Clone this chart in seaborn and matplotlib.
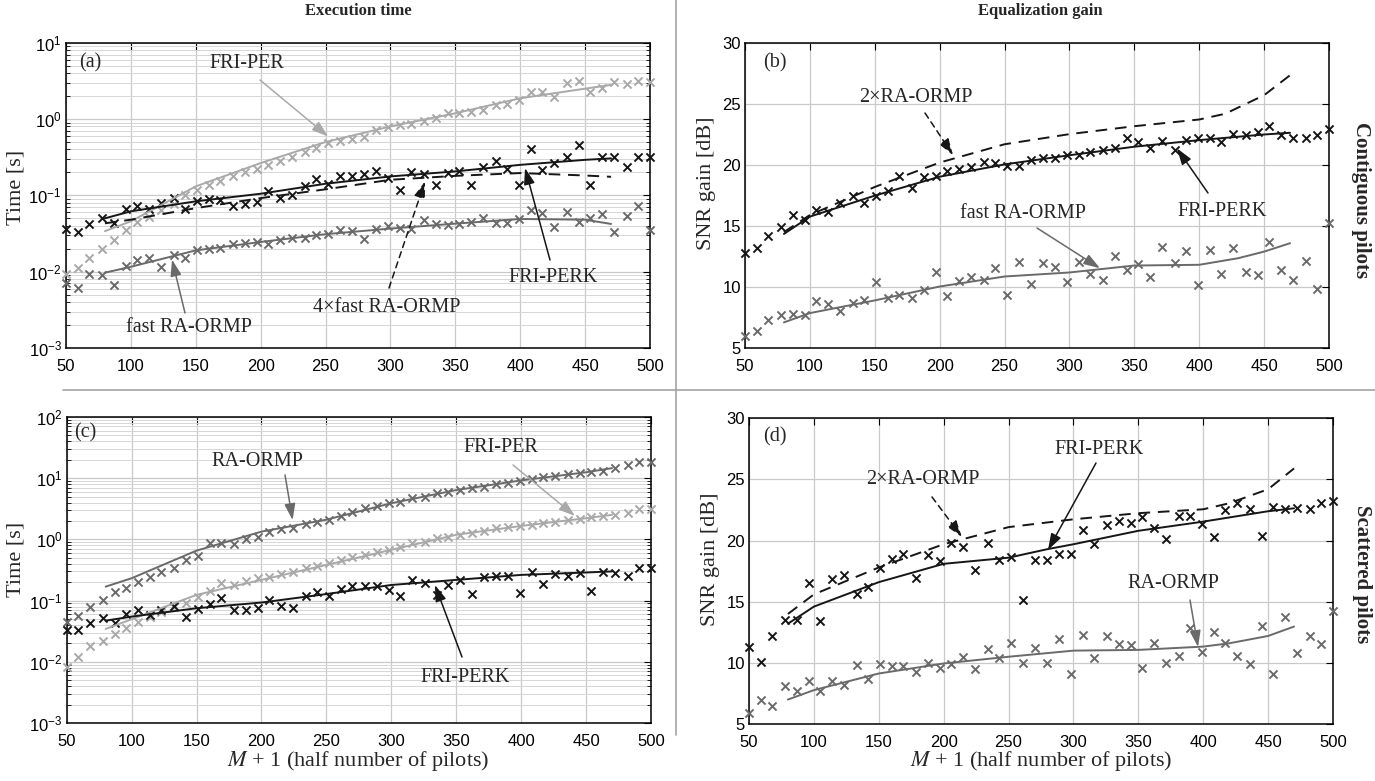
import numpy as np
import pandas as pd
import matplotlib
matplotlib.use("Agg")
import matplotlib.pyplot as plt
from matplotlib.lines import Line2D
import seaborn as sns

# ---------------------------------------------------------------- data
# M + 1 sample positions shared by every scatter series
m_pts = [50, 59, 68, 78, 87, 96, 105, 114, 123, 133, 142, 151, 160, 169, 179,
         188, 197, 206, 215, 224, 234, 243, 252, 261, 270, 280, 289, 298, 307,
         316, 326, 335, 344, 353, 362, 371, 381, 390, 399, 408, 417, 426, 436,
         445, 454, 463, 472, 482, 491, 500]

# (a) execution time, contiguous pilots [s]
a_perk = [0.0367, 0.033, 0.0426, 0.0506, 0.0435, 0.067, 0.073, 0.067, 0.0786, 0.092,
          0.066, 0.085, 0.09, 0.088, 0.073, 0.078, 0.081, 0.115, 0.091, 0.1,
          0.131, 0.165, 0.142, 0.177, 0.177, 0.192, 0.206, 0.169, 0.119, 0.202,
          0.192, 0.136, 0.196, 0.206, 0.136, 0.235, 0.278, 0.221, 0.138, 0.407,
          0.216, 0.268, 0.314, 0.451, 0.135, 0.317, 0.317, 0.235, 0.317, 0.314]
a_per = [0.0094, 0.0112, 0.0152, 0.020, 0.0263, 0.0356, 0.0448, 0.0515, 0.065, 0.077,
         0.1, 0.118, 0.136, 0.152, 0.177, 0.202, 0.223, 0.25, 0.284, 0.317,
         0.365, 0.416, 0.483, 0.519, 0.54, 0.589, 0.721, 0.775, 0.839, 0.865,
         0.955, 1.025, 1.19, 1.19, 1.25, 1.32, 1.53, 1.58, 1.78, 2.29,
         2.29, 1.97, 2.94, 3.19, 2.29, 2.58, 3.03, 2.85, 3.16, 3.09]
a_fast = [0.0070, 0.0061, 0.0092, 0.009, 0.0067, 0.0118, 0.0141, 0.0152, 0.0116, 0.0163,
          0.0152, 0.0191, 0.020, 0.0202, 0.0233, 0.0238, 0.0243, 0.0233, 0.0258, 0.0277,
          0.0277, 0.030, 0.031, 0.0356, 0.0345, 0.0269, 0.0367, 0.0394, 0.0374, 0.0363,
          0.0471, 0.0422, 0.0405, 0.0422, 0.0444, 0.05, 0.0435, 0.0435, 0.0496, 0.0643,
          0.0588, 0.0386, 0.06, 0.0444, 0.0506, 0.057, 0.033, 0.0542, 0.0733, 0.0348]
fit_m = [80, 100, 150, 200, 250, 300, 350, 400, 450, 470]
a_perk_fit = [0.05, 0.0618, 0.0835, 0.105, 0.142, 0.177, 0.206, 0.251, 0.292, 0.305]
a_fast4_fit = [0.043, 0.048, 0.068, 0.092, 0.12, 0.16, 0.18, 0.196, 0.182, 0.175]
a_per_fit = [0.034, 0.0457, 0.131, 0.265, 0.5, 0.8, 1.19, 1.87, 2.5, 2.8]
a_fast_fit = [0.0097, 0.0116, 0.019, 0.0245, 0.031, 0.0367, 0.0426, 0.049, 0.048, 0.0422]

# (b) SNR gain, contiguous pilots [dB]
b_perk = [12.77, 13.18, 14.19, 14.95, 15.88, 15.5, 16.31, 16.18, 16.86, 17.49,
          16.86, 17.49, 17.9, 19.1, 18.14, 18.99, 19.1, 19.5, 19.64, 19.86,
          20.27, 20.19, 19.91, 19.91, 20.4, 20.6, 20.6, 20.8, 20.8, 21.08,
          21.22, 21.41, 22.18, 21.9, 21.36, 21.96, 21.22, 22.04, 22.18, 22.18,
          21.9, 22.58, 22.45, 22.72, 23.18, 22.45, 22.18, 22.18, 22.5, 22.99]
b_fast = [6.0, 6.42, 7.32, 7.67, 7.81, 7.73, 8.82, 8.63, 8.0, 8.68,
          8.95, 10.45, 9.09, 9.36, 9.09, 9.77, 11.2, 9.28, 10.53, 10.86,
          10.59, 11.54, 9.31, 12.09, 10.26, 11.95, 11.62, 10.45, 12.03, 11.05,
          10.59, 12.55, 11.41, 11.87, 10.78, 13.26, 11.95, 12.99, 10.13, 13.04,
          11.08, 13.23, 11.22, 11.0, 13.72, 11.41, 10.59, 12.17, 9.83, 15.22]
b_perk_fit = [14.35, 15.77, 17.49, 19.04, 20.05, 20.8, 21.5, 22.04, 22.5, 22.64]
b_ra2_m = [80, 100, 150, 200, 250, 300, 350, 400, 420, 450, 470]
b_ra2_fit = [14.5, 15.9, 18.2, 20.2, 21.7, 22.53, 23.18, 23.73, 24.2, 25.72, 27.36]
b_fast_m = [80, 100, 150, 200, 250, 300, 350, 400, 430, 450, 470]
b_fast_fit = [7.1, 7.86, 8.9, 10.04, 10.86, 11.19, 11.76, 11.82, 12.36, 12.9, 13.59]

# (c) execution time, scattered pilots [s]
c_ra = [0.045, 0.055, 0.078, 0.103, 0.140, 0.159, 0.20, 0.247, 0.29, 0.346,
        0.461, 0.543, 0.887, 0.887, 0.83, 1.0, 1.08, 1.31, 1.47, 1.56,
        1.77, 1.95, 2.08, 2.4, 2.85, 3.24, 3.57, 3.9, 4.16, 4.71,
        5.0, 5.69, 5.84, 6.44, 6.86, 7.31, 7.97, 8.28, 9.04, 9.63,
        10.3, 10.9, 11.6, 12.1, 12.8, 13.2, 14.6, 16.5, 18.3, 18.3]
c_per = [0.0082, 0.0122, 0.018, 0.0222, 0.0285, 0.0353, 0.0454, 0.0534, 0.066, 0.080,
         0.093, 0.113, 0.144, 0.192, 0.18, 0.209, 0.232, 0.247, 0.273, 0.298,
         0.337, 0.368, 0.418, 0.462, 0.515, 0.559, 0.618, 0.675, 0.746, 0.868,
         0.923, 1.05, 1.11, 1.19, 1.29, 1.35, 1.52, 1.58, 1.66, 1.73,
         1.84, 1.96, 2.08, 2.14, 2.31, 2.37, 2.52, 2.75, 3.11, 3.15]
c_perk = [0.033, 0.0332, 0.0427, 0.0514, 0.0427, 0.0605, 0.0703, 0.0583, 0.0703, 0.0818,
          0.0548, 0.0721, 0.0882, 0.109, 0.0703, 0.0703, 0.075, 0.1026, 0.0828, 0.0768,
          0.119, 0.140, 0.119, 0.153, 0.176, 0.17, 0.174, 0.15, 0.119, 0.218,
          0.192, 0.124, 0.18, 0.218, 0.129, 0.241, 0.253, 0.248, 0.132, 0.288,
          0.188, 0.27, 0.253, 0.281, 0.144, 0.288, 0.281, 0.248, 0.338, 0.338]
c_ra_fit = [0.169, 0.232, 0.656, 1.34, 2.1, 3.9, 6.4, 9.2, 12.5, 14.6]
c_per_fit = [0.0344, 0.0496, 0.124, 0.218, 0.383, 0.675, 1.19, 1.66, 2.22, 2.52]
c_perk_fit = [0.047, 0.0548, 0.075, 0.093, 0.128, 0.18, 0.218, 0.263, 0.288, 0.3]

# (d) SNR gain, scattered pilots [dB]
d_perk = [11.26, 10.06, 12.19, 13.5, 13.5, 16.55, 13.44, 16.85, 17.18, 15.62,
          16.17, 17.72, 18.46, 18.9, 16.98, 18.81, 18.32, 19.82, 19.49, 17.58,
          19.82, 18.4, 18.62, 15.13, 18.42, 18.42, 18.91, 18.91, 20.87, 19.73,
          21.28, 21.64, 21.42, 21.96, 21.01, 20.11, 22.02, 22.02, 21.36, 20.33,
          22.51, 23.11, 22.56, 20.38, 22.73, 22.59, 22.7, 22.59, 23.05, 23.27]
d_ra = [5.87, 6.96, 6.47, 8.1, 7.72, 8.53, 7.72, 8.53, 8.18, 9.81,
        8.64, 9.9, 9.76, 9.76, 9.27, 10.0, 9.62, 9.9, 10.44, 9.46,
        11.12, 10.36, 11.66, 10.0, 11.25, 9.97, 11.96, 9.09, 12.28, 10.43,
        12.2, 11.52, 11.47, 9.56, 11.6, 10.02, 10.59, 12.83, 10.92, 12.5,
        11.6, 10.57, 9.91, 13.05, 9.09, 13.73, 10.84, 12.23, 11.52, 14.27]
d_perk_m = [80, 100, 150, 200, 250, 280, 300, 350, 400, 450, 470]
d_perk_fit = [13.2, 14.6, 16.6, 18.1, 18.6, 19.3, 19.7, 20.8, 21.55, 22.4, 22.64]
d_ra2_m = [80, 100, 150, 200, 250, 300, 350, 400, 420, 450, 470]
d_ra2_fit = [14.0, 15.6, 17.8, 19.7, 21.1, 21.74, 22.24, 22.56, 23.05, 24.2, 25.9]
d_ra_m = [80, 100, 150, 200, 250, 300, 350, 400, 420, 450, 470]
d_ra_fit = [7.0, 7.77, 9.13, 9.95, 10.5, 11.0, 11.06, 11.33, 11.6, 12.2, 12.97]

x_ticks = [50, 100, 150, 200, 250, 300, 350, 400, 450, 500]
snr_ticks = [5, 10, 15, 20, 25, 30]

# ---------------------------------------------------------------- style
W, H = 1375, 781
BLACK, DARK, LIGHT = "#161616", "#6a6a6a", "#a9a9a9"
SERIF = "Liberation Serif"

sns.set_theme(style="white")
plt.rcParams.update({
    "font.family": ["Liberation Sans", "DejaVu Sans"],
    "mathtext.fontset": "stix",
    "axes.edgecolor": "black",
    "axes.linewidth": 1.1,
    "xtick.color": "black",
    "ytick.color": "black",
})

fig = plt.figure(figsize=(W / 100, H / 100), dpi=100)
fig.patch.set_facecolor("white")


def px_rect(left, top, right, bottom):
    return [left / W, 1 - bottom / H, (right - left) / W, (bottom - top) / H]


ax_a = fig.add_axes(px_rect(66, 42.7, 650, 348))
ax_b = fig.add_axes(px_rect(745, 43, 1329, 348))
ax_c = fig.add_axes(px_rect(66.7, 417, 651, 723))
ax_d = fig.add_axes(px_rect(749, 418.3, 1333, 724))


def style_axes(ax, log):
    ax.set_xlim(50, 500)
    ax.set_xticks(x_ticks)
    if log:
        ax.set_yscale("log")
        ax.yaxis.set_major_locator(matplotlib.ticker.LogLocator(base=10, numticks=12))
        ax.yaxis.set_minor_locator(matplotlib.ticker.LogLocator(base=10, subs=np.arange(2, 10), numticks=12))
        ax.grid(True, which="minor", axis="y", color="#d6d6d6", lw=0.7)
    else:
        ax.set_ylim(5, 30)
        ax.set_yticks(snr_ticks)
    ax.grid(True, which="major", color="#c9c9c9", lw=0.9)
    ax.set_axisbelow(True)
    ax.tick_params(which="major", direction="in", length=5, width=0.8,
                   top=True, right=True, labelsize=12, pad=8)
    ax.tick_params(axis="y", which="major", pad=3)
    ax.tick_params(which="minor", direction="in", length=3, width=0.6,
                   top=False, right=True, left=True)
    ax.set_xlabel("")
    ax.set_ylabel("")
    for s in ax.spines.values():
        s.set_visible(True)
        s.set_color("black")


def scatter(ax, y, color):
    sns.scatterplot(x=m_pts, y=y, ax=ax, marker="x", color=color, s=34,
                    linewidth=1.4, clip_on=False, zorder=3, legend=False)


def curve(ax, xs, ys, color, dashed=False):
    sns.lineplot(x=xs, y=ys, ax=ax, color=color, lw=1.4, zorder=4,
                 linestyle=(0, (6, 4)) if dashed else "-", legend=False)


def arrow(ax, tail_px, head, color, dashed=False):
    ax.annotate("", xy=head, xycoords="data",
                xytext=(tail_px[0], H - tail_px[1]), textcoords="figure pixels",
                arrowprops=dict(arrowstyle="-|>,head_length=0.9,head_width=0.3",
                                color=color, lw=1.1, mutation_scale=11,
                                linestyle=(0, (4, 3)) if dashed else "-",
                                shrinkA=0, shrinkB=0),
                zorder=6)


def label(x, y, s, size=14.5, **kw):
    fig.text(x / W, 1 - y / H, s, ha="center", va="center", fontsize=size,
             family=SERIF, **kw)


# (a)
scatter(ax_a, a_per, LIGHT)
scatter(ax_a, a_fast, DARK)
scatter(ax_a, a_perk, BLACK)
curve(ax_a, fit_m, a_per_fit, LIGHT)
curve(ax_a, fit_m, a_fast_fit, DARK)
curve(ax_a, fit_m, a_fast4_fit, BLACK, dashed=True)
curve(ax_a, fit_m, a_perk_fit, BLACK)
style_axes(ax_a, log=True)
ax_a.set_ylim(1e-3, 1e1)
arrow(ax_a, (260, 80), (252, 0.59), LIGHT)
arrow(ax_a, (185, 313), (131.7, 0.0144), DARK)
arrow(ax_a, (389, 288), (326.6, 0.152), BLACK, dashed=True)
arrow(ax_a, (550, 260), (403.7, 0.228), BLACK)

# (b)
scatter(ax_b, b_fast, DARK)
scatter(ax_b, b_perk, BLACK)
curve(ax_b, b_fast_m, b_fast_fit, DARK)
curve(ax_b, b_ra2_m, b_ra2_fit, BLACK, dashed=True)
curve(ax_b, fit_m, b_perk_fit, BLACK)
style_axes(ax_b, log=False)
arrow(ax_b, (925, 113), (210.3, 20.81), BLACK, dashed=True)
arrow(ax_b, (1037, 228), (323.5, 11.54), DARK)
arrow(ax_b, (1208, 193), (382.9, 21.36), BLACK)

# (c)
scatter(ax_c, c_per, LIGHT)
scatter(ax_c, c_ra, DARK)
scatter(ax_c, c_perk, BLACK)
curve(ax_c, fit_m, c_per_fit, LIGHT)
curve(ax_c, fit_m, c_ra_fit, DARK)
curve(ax_c, fit_m, c_perk_fit, BLACK)
style_axes(ax_c, log=True)
ax_c.set_ylim(1e-3, 1e2)
arrow(ax_c, (285, 475), (224, 2.07), DARK)
arrow(ax_c, (513, 465), (441.5, 2.41), LIGHT)
arrow(ax_c, (462, 657), (333.6, 0.18), BLACK)

# (d)
scatter(ax_d, d_ra, DARK)
scatter(ax_d, d_perk, BLACK)
curve(ax_d, d_ra_m, d_ra_fit, DARK)
curve(ax_d, d_ra2_m, d_ra2_fit, BLACK, dashed=True)
curve(ax_d, d_perk_m, d_perk_fit, BLACK)
style_axes(ax_d, log=False)
arrow(ax_d, (932, 497), (214, 20.3), BLACK, dashed=True)
arrow(ax_d, (1096, 463), (280.4, 19.23), BLACK)
arrow(ax_d, (1190, 600), (396, 11.3), DARK)

# ---------------------------------------------------------------- texts
label(90, 63, "(a)")
label(247, 63, "FRI-PER")
label(189, 327, "fast RA-ORMP")
label(387, 307, "4×fast RA-ORMP")
label(553, 277, "FRI-PERK")

label(775, 63, "(b)")
label(916, 97, "2×RA-ORMP")
label(1023, 213, "fast RA-ORMP")
label(1222, 212, "FRI-PERK")

label(85, 433, "(c)")
label(257, 462, "RA-ORMP")
label(501, 447, "FRI-PER")
label(465, 677, "FRI-PERK")

label(775, 437, "(d)")
label(923, 480, "2×RA-ORMP")
label(1099, 450, "FRI-PERK")
label(1173, 583, "RA-ORMP")

label(358, 11, "Execution time", size=12, weight="bold")
label(1040, 11, "Equalization gain", size=12, weight="bold")
label(1361, 200, "Contiguous pilots", size=15, weight="bold", rotation=-90)
label(1362, 574, "Scattered pilots", size=15, weight="bold", rotation=-90)

label(16, 187, "Time [s]", size=16, rotation=90)
label(16, 559, "Time [s]", size=16, rotation=90)
label(707, 183, "SNR gain [dB]", size=16, rotation=90)
label(710, 559, "SNR gain [dB]", size=16, rotation=90)

label(358, 761, r"$M$ + 1 (half number of pilots)", size=16)
label(1041, 761, r"$M$ + 1 (half number of pilots)", size=16)

# panel separators
fig.add_artist(Line2D([676 / W, 676 / W], [1, 1 - 735 / H], transform=fig.transFigure,
                      color="#a3a3a3", lw=1.2))
fig.add_artist(Line2D([63 / W, 1], [1 - 390 / H, 1 - 390 / H], transform=fig.transFigure,
                      color="#a3a3a3", lw=1.2))

fig.savefig("out.png", dpi=100)
